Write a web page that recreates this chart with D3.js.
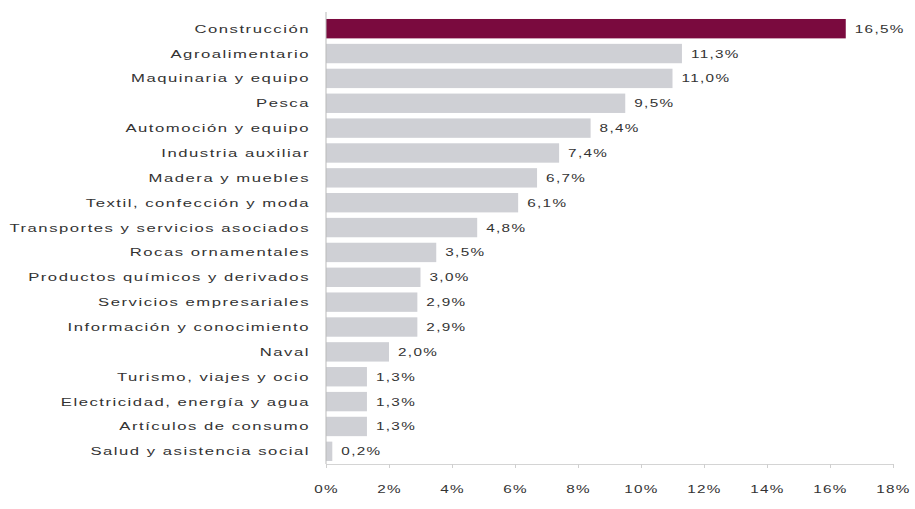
<!DOCTYPE html>
<html>
<head>
<meta charset="utf-8">
<script src="https://cdn.jsdelivr.net/npm/d3@7"></script>
<style>
  body { margin: 0; background: #fff; }
  svg text { font-family: "Liberation Sans", Arial, sans-serif; fill: #333; }
</style>
</head>
<body>
<svg id="chart" width="915" height="509"></svg>
<script>
const sectors = [
    'Construcción', 'Agroalimentario', 'Maquinaria y equipo', 'Pesca',
    'Automoción y equipo', 'Industria auxiliar', 'Madera y muebles',
    'Textil, confección y moda', 'Transportes y servicios asociados',
    'Rocas ornamentales', 'Productos químicos y derivados',
    'Servicios empresariales', 'Información y conocimiento', 'Naval',
    'Turismo, viajes y ocio', 'Electricidad, energía y agua',
    'Artículos de consumo', 'Salud y asistencia social'
];
const shares = [16.5, 11.3, 11.0, 9.5, 8.4, 7.4, 6.7, 6.1, 4.8, 3.5, 3.0, 2.9, 2.9, 2.0, 1.3, 1.3, 1.3, 0.2];
const xTicks = [0, 2, 4, 6, 8, 10, 12, 14, 16, 18];

const svg = d3.select('#chart');
const margin = { top: 16, right: 22, bottom: 45, left: 326 };
const width = 915 - margin.left - margin.right;
const height = 509 - margin.top - margin.bottom;
const STRETCH = 1.33;      // the source font is a wide face
const CAT_STRETCH = 1.45;

const x = d3.scaleLinear().domain([0, 18]).range([0, width]);
const y = d3.scaleBand().domain(sectors).range([0, height]).paddingInner(0.22).paddingOuter(0.12);

const g = svg.append('g').attr('transform', `translate(${margin.left},${margin.top})`);

const fmt = v => v.toFixed(1).replace('.', ',') + '%';

g.selectAll('rect.bar')
    .data(sectors)
    .join('rect')
    .attr('class', 'bar')
    .attr('x', 0)
    .attr('y', d => y(d))
    .attr('width', (d, i) => x(shares[i]))
    .attr('height', y.bandwidth())
    .attr('fill', (d, i) => i === 0 ? '#7a0a3e' : '#cfd0d5');

g.selectAll('text.val')
    .data(sectors)
    .join('text')
    .attr('class', 'val')
    .attr('transform', (d, i) => `translate(${x(shares[i]) + 9},${y(d) + y.bandwidth() / 2}) scale(${STRETCH},1)`)
    .attr('dy', '0.35em')
    .style('font-size', '11.5px')
    .style('letter-spacing', '1px')
    .text((d, i) => fmt(shares[i]));

// category labels
g.selectAll('text.cat')
    .data(sectors)
    .join('text')
    .attr('class', 'cat')
    .attr('transform', d => `translate(-16,${y(d) + y.bandwidth() / 2}) scale(${CAT_STRETCH},1)`)
    .attr('dy', '0.35em')
    .attr('text-anchor', 'end')
    .style('font-size', '11.5px')
    .style('letter-spacing', '1.05px')
    .text(d => d);

// vertical axis line
g.append('line')
    .attr('x1', 0).attr('x2', 0)
    .attr('y1', -4).attr('y2', height)
    .attr('stroke', '#b9b9b9');

const xAxis = g.append('g')
    .attr('transform', `translate(0,${height})`)
    .call(d3.axisBottom(x).tickValues(xTicks).tickSize(4).tickPadding(17).tickFormat(d => d + '%'));
xAxis.select('.domain').attr('stroke', '#d4d4d4');
xAxis.selectAll('.tick line').attr('stroke', '#cfcfcf');
xAxis.selectAll('.tick text')
    .attr('transform', `scale(${STRETCH},1)`)
    .attr('x', 0)
    .style('font-size', '11.5px')
    .style('letter-spacing', '1px')
    .attr('fill', '#333');
</script>
</body>
</html>
